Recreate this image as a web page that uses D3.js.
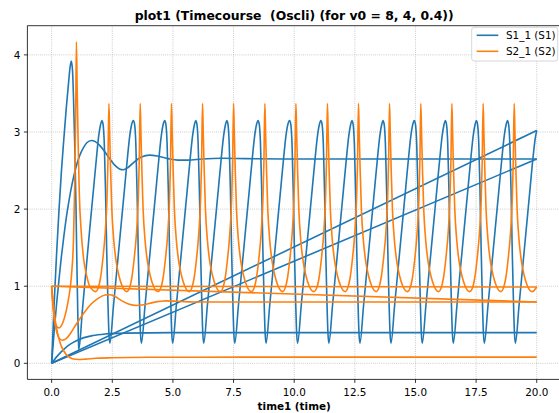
<!DOCTYPE html>
<html><head><meta charset="utf-8">
<script src="https://cdn.jsdelivr.net/npm/d3@7"></script>
<style>
body{margin:0;background:#fff}
svg{display:block}
text{font-family:"DejaVu Sans",sans-serif;fill:#000;white-space:pre}
</style></head>
<body><svg id="c" width="559" height="413"></svg>
<script>
// ---------- data ----------
const titleText = "plot1 (Timecourse  (Oscli) (for v0 = 8, 4, 0.4))";
const xLabelText = "time1 (time)";
const seriesNames = ["S1_1 (S1)", "S2_1 (S2)"];
const seriesColors = ["#1f77b4", "#ff7f0e"];
const xTicks = [0, 2.5, 5, 7.5, 10, 12.5, 15, 17.5, 20];
const yTicks = [0, 1, 2, 3, 4];

// S1, run v0 = 8 (oscillating)
const s1Run1 = [[0,0],[0.1,0.75],[0.2,1.4],[0.3,1.97],[0.4,2.48],[0.5,2.9],[0.6,3.3],[0.7,3.65],[0.76,3.84],[0.81,3.92],[0.86,3.8],[0.9,3.45],[0.95,2.85],[1.0,2.1],[1.04,1.3],[1.08,0.6],[1.11,0.25],[1.12,0.18],
[1.27,0.7],[1.42,1.22],[1.57,1.74],[1.72,2.24],[1.84,2.64],[1.94,2.95],[2.02,3.1],[2.07,3.15],[2.12,3.1],[2.17,2.85],[2.22,2.25],[2.27,1.45],[2.32,0.8],[2.36,0.4],[2.40,0.26],
[2.55,0.75],[2.70,1.25],[2.85,1.75],[3.00,2.25],[3.12,2.65],[3.22,2.95],[3.30,3.1],[3.37,3.15],[3.42,3.1],[3.47,2.85],[3.52,2.25],[3.57,1.45],[3.62,0.8],[3.66,0.4],[3.70,0.26],
[3.85,0.75],[4.00,1.25],[4.15,1.75],[4.30,2.25],[4.42,2.65],[4.52,2.95],[4.60,3.1],[4.66,3.15],[4.71,3.1],[4.76,2.85],[4.81,2.25],[4.86,1.45],[4.91,0.8],[4.95,0.4],[4.99,0.26],
[5.14,0.75],[5.29,1.25],[5.44,1.75],[5.59,2.25],[5.71,2.65],[5.81,2.95],[5.89,3.1],[5.94,3.15],[5.99,3.1],[6.04,2.85],[6.09,2.25],[6.14,1.45],[6.19,0.8],[6.23,0.4],[6.27,0.26],
[6.42,0.75],[6.57,1.25],[6.72,1.75],[6.87,2.25],[6.99,2.65],[7.09,2.95],[7.17,3.1],[7.22,3.15],[7.27,3.1],[7.32,2.85],[7.37,2.25],[7.42,1.45],[7.47,0.8],[7.51,0.4],[7.55,0.26],
[7.70,0.75],[7.85,1.25],[8.00,1.75],[8.15,2.25],[8.27,2.65],[8.37,2.95],[8.45,3.1],[8.51,3.15],[8.56,3.1],[8.61,2.85],[8.66,2.25],[8.71,1.45],[8.76,0.8],[8.80,0.4],[8.84,0.26],
[8.99,0.75],[9.14,1.25],[9.29,1.75],[9.44,2.25],[9.56,2.65],[9.66,2.95],[9.74,3.1],[9.81,3.15],[9.86,3.1],[9.91,2.85],[9.96,2.25],[10.01,1.45],[10.06,0.8],[10.10,0.4],[10.14,0.26],
[10.29,0.75],[10.44,1.25],[10.59,1.75],[10.74,2.25],[10.86,2.65],[10.96,2.95],[11.04,3.1],[11.10,3.15],[11.15,3.1],[11.20,2.85],[11.25,2.25],[11.30,1.45],[11.35,0.8],[11.39,0.4],[11.43,0.26],
[11.58,0.75],[11.73,1.25],[11.88,1.75],[12.03,2.25],[12.15,2.65],[12.25,2.95],[12.33,3.1],[12.38,3.15],[12.43,3.1],[12.48,2.85],[12.53,2.25],[12.58,1.45],[12.63,0.8],[12.67,0.4],[12.71,0.26],
[12.86,0.75],[13.01,1.25],[13.16,1.75],[13.31,2.25],[13.43,2.65],[13.53,2.95],[13.61,3.1],[13.66,3.15],[13.71,3.1],[13.76,2.85],[13.81,2.25],[13.86,1.45],[13.91,0.8],[13.95,0.4],[13.99,0.26],
[14.14,0.75],[14.29,1.25],[14.44,1.75],[14.59,2.25],[14.71,2.65],[14.81,2.95],[14.89,3.1],[14.95,3.15],[15.00,3.1],[15.05,2.85],[15.10,2.25],[15.15,1.45],[15.20,0.8],[15.24,0.4],[15.28,0.26],
[15.43,0.75],[15.58,1.25],[15.73,1.75],[15.88,2.25],[16.00,2.65],[16.10,2.95],[16.18,3.1],[16.23,3.15],[16.28,3.1],[16.33,2.85],[16.38,2.25],[16.43,1.45],[16.48,0.8],[16.52,0.4],[16.56,0.26],
[16.71,0.75],[16.86,1.25],[17.01,1.75],[17.16,2.25],[17.28,2.65],[17.38,2.95],[17.46,3.1],[17.51,3.15],[17.56,3.1],[17.61,2.85],[17.66,2.25],[17.71,1.45],[17.76,0.8],[17.80,0.4],[17.84,0.26],
[17.99,0.75],[18.14,1.25],[18.29,1.75],[18.44,2.25],[18.56,2.65],[18.66,2.95],[18.74,3.1],[18.79,3.15],[18.84,3.1],[18.89,2.85],[18.94,2.25],[18.99,1.45],[19.04,0.8],[19.08,0.4],[19.12,0.26],
[19.27,0.75],[19.42,1.25],[19.57,1.75],[19.72,2.25],[19.84,2.65],[19.94,2.92],[20.0,3.02]];

// S1, run v0 = 4 (damped)
const s1Run2 = [[0,0],[0.1,0.4],[0.2,0.76],[0.3,1.08],[0.4,1.38],[0.5,1.64],[0.6,1.88],[0.7,2.08],[0.8,2.26],[0.9,2.41],[1.0,2.54],[1.15,2.69],[1.3,2.79],[1.45,2.86],[1.64,2.89],[1.8,2.875],[2.0,2.82],[2.2,2.74],[2.4,2.65],[2.6,2.57],[2.8,2.52],[2.95,2.51],[3.15,2.54],[3.4,2.61],[3.7,2.675],[4.04,2.70],[4.4,2.685],[4.8,2.655],[5.2,2.635],[5.6,2.635],[6.2,2.65],[7,2.66],[8,2.655],[10,2.65],[20,2.65]];

// S1, run v0 = 0.4
const s1Run3 = [[0,0],[0.25,0.1],[0.5,0.18],[0.75,0.245],[1.0,0.29],[1.3,0.33],[1.7,0.36],[2.2,0.38],[3,0.392],[5,0.398],[20,0.398]];

// S2, run v0 = 8 (oscillating)
const s2Run1 = [[0,1.0],[0.04,0.8],[0.1,0.6],[0.2,0.48],[0.3,0.46],[0.45,0.52],[0.6,0.68],[0.72,0.88],[0.82,1.15],[0.9,1.6],[0.95,2.3],[0.99,3.2],[1.02,4.17],
[1.05,3.6],[1.09,2.9],[1.14,2.2],[1.22,1.7],[1.32,1.35],[1.44,1.14],[1.57,1.0],[1.82,0.93],[1.91,0.97],[2.01,1.1],[2.11,1.35],[2.21,1.7],[2.28,2.12],[2.32,2.6],[2.36,3.37],
[2.39,3.0],[2.43,2.5],[2.48,2.0],[2.56,1.6],[2.66,1.32],[2.78,1.13],[2.91,1.0],[3.10,0.93],[3.20,0.97],[3.30,1.1],[3.40,1.35],[3.50,1.7],[3.57,2.12],[3.61,2.6],[3.65,3.37],
[3.68,3.0],[3.72,2.5],[3.77,2.0],[3.85,1.6],[3.95,1.32],[4.07,1.13],[4.20,1.0],[4.39,0.93],[4.49,0.97],[4.59,1.1],[4.69,1.35],[4.79,1.7],[4.86,2.12],[4.90,2.6],[4.94,3.37],
[4.97,3.0],[5.01,2.5],[5.06,2.0],[5.14,1.6],[5.24,1.32],[5.36,1.13],[5.49,1.0],[5.68,0.93],[5.77,0.97],[5.87,1.1],[5.97,1.35],[6.07,1.7],[6.14,2.12],[6.18,2.6],[6.22,3.37],
[6.25,3.0],[6.29,2.5],[6.34,2.0],[6.42,1.6],[6.52,1.32],[6.64,1.13],[6.77,1.0],[6.96,0.93],[7.05,0.97],[7.15,1.1],[7.25,1.35],[7.35,1.7],[7.42,2.12],[7.46,2.6],[7.50,3.37],
[7.53,3.0],[7.57,2.5],[7.62,2.0],[7.70,1.6],[7.80,1.32],[7.92,1.13],[8.05,1.0],[8.24,0.93],[8.34,0.97],[8.44,1.1],[8.54,1.35],[8.64,1.7],[8.71,2.12],[8.75,2.6],[8.79,3.37],
[8.82,3.0],[8.86,2.5],[8.91,2.0],[8.99,1.6],[9.09,1.32],[9.21,1.13],[9.34,1.0],[9.53,0.93],[9.62,0.97],[9.72,1.1],[9.82,1.35],[9.92,1.7],[9.99,2.12],[10.03,2.6],[10.07,3.37],
[10.10,3.0],[10.14,2.5],[10.19,2.0],[10.27,1.6],[10.37,1.32],[10.49,1.13],[10.62,1.0],[10.81,0.93],[10.92,0.97],[11.02,1.1],[11.12,1.35],[11.22,1.7],[11.29,2.12],[11.33,2.6],[11.37,3.37],
[11.40,3.0],[11.44,2.5],[11.49,2.0],[11.57,1.6],[11.67,1.32],[11.79,1.13],[11.92,1.0],[12.11,0.93],[12.20,0.97],[12.30,1.1],[12.40,1.35],[12.50,1.7],[12.57,2.12],[12.61,2.6],[12.65,3.37],
[12.68,3.0],[12.72,2.5],[12.77,2.0],[12.85,1.6],[12.95,1.32],[13.07,1.13],[13.20,1.0],[13.39,0.93],[13.48,0.97],[13.58,1.1],[13.68,1.35],[13.78,1.7],[13.85,2.12],[13.89,2.6],[13.93,3.37],
[13.96,3.0],[14.00,2.5],[14.05,2.0],[14.13,1.6],[14.23,1.32],[14.35,1.13],[14.48,1.0],[14.67,0.93],[14.77,0.97],[14.87,1.1],[14.97,1.35],[15.07,1.7],[15.14,2.12],[15.18,2.6],[15.22,3.37],
[15.25,3.0],[15.29,2.5],[15.34,2.0],[15.42,1.6],[15.52,1.32],[15.64,1.13],[15.77,1.0],[15.96,0.93],[16.05,0.97],[16.15,1.1],[16.25,1.35],[16.35,1.7],[16.42,2.12],[16.46,2.6],[16.50,3.37],
[16.53,3.0],[16.57,2.5],[16.62,2.0],[16.70,1.6],[16.80,1.32],[16.92,1.13],[17.05,1.0],[17.24,0.93],[17.34,0.97],[17.44,1.1],[17.54,1.35],[17.64,1.7],[17.71,2.12],[17.75,2.6],[17.79,3.37],
[17.82,3.0],[17.86,2.5],[17.91,2.0],[17.99,1.6],[18.09,1.32],[18.21,1.13],[18.34,1.0],[18.53,0.93],[18.62,0.97],[18.72,1.1],[18.82,1.35],[18.92,1.7],[18.99,2.12],[19.03,2.6],[19.07,3.37],
[19.10,3.0],[19.14,2.5],[19.19,2.0],[19.27,1.6],[19.37,1.32],[19.49,1.13],[19.62,1.0],[19.81,0.93],[20.0,0.99]];

// S2, run v0 = 4 (damped)
const s2Run2 = [[0,1.0],[0.05,0.78],[0.12,0.55],[0.2,0.42],[0.3,0.33],[0.44,0.30],[0.6,0.32],[0.8,0.4],[1.0,0.5],[1.3,0.64],[1.6,0.76],[1.9,0.84],[2.2,0.885],[2.4,0.89],[2.6,0.87],[2.9,0.81],[3.2,0.765],[3.5,0.75],[3.8,0.76],[4.2,0.79],[4.7,0.81],[5.2,0.805],[6,0.795],[7,0.795],[10,0.795],[20,0.795]];

// S2, run v0 = 0.4
const s2Run3 = [[0,1.0],[0.05,0.82],[0.1,0.67],[0.2,0.46],[0.3,0.32],[0.4,0.22],[0.5,0.16],[0.6,0.115],[0.75,0.075],[0.9,0.055],[1.1,0.05],[1.4,0.055],[1.8,0.065],[2.5,0.072],[4,0.078],[8,0.08],[20,0.08]];

// ---------- drawing ----------
const svg = d3.select("#c");
const x = d3.scaleLinear().domain([-1, 21]).range([27.4, 561.0]);
const y = d3.scaleLinear().domain([-0.2085, 4.3785]).range([379.4, 25.7]);
const [x0, x1] = x.range();
const [yB, yT] = y.range();

// grid
const grid = svg.append("g");
grid.selectAll("line.gx").data(xTicks).join("line")
  .attr("x1", d => x(d)).attr("x2", d => x(d)).attr("y1", yB).attr("y2", yT)
  .attr("stroke", "#b0b0b0").attr("stroke-width", 0.8).attr("stroke-dasharray", "0.8,1.32");
grid.selectAll("line.gy").data(yTicks).join("line")
  .attr("y1", d => y(d)).attr("y2", d => y(d)).attr("x1", x0).attr("x2", x1)
  .attr("stroke", "#b0b0b0").attr("stroke-width", 0.8).attr("stroke-dasharray", "0.8,1.32");

// lines
const line = d3.line().x(d => x(d[0])).y(d => y(d[1])).curve(d3.curveMonotoneX);
const straight = d3.line().x(d => x(d[0])).y(d => y(d[1]));
const species = [[s1Run1, s1Run2, s1Run3], [s2Run1, s2Run2, s2Run3]];
const plot = svg.append("g");
species.forEach((runs, i) => {
  const g = plot.append("g").attr("fill", "none").attr("stroke", seriesColors[i])
    .attr("stroke-width", 1.6).attr("stroke-linejoin", "round").attr("stroke-linecap", "butt");
  runs.forEach((run, k) => {
    g.append("path").attr("d", line(run));
    if (k < runs.length - 1) {
      g.append("path").attr("d", straight([run[run.length - 1], runs[k + 1][0]]));
    }
  });
});

// spines
const sp = svg.append("g").attr("stroke", "#000").attr("stroke-width", 0.8);
sp.append("line").attr("x1", x0).attr("x2", x0).attr("y1", yB).attr("y2", yT);
sp.append("line").attr("x1", x0).attr("x2", x1).attr("y1", yB).attr("y2", yB);
sp.append("line").attr("x1", x0).attr("x2", x1).attr("y1", yT).attr("y2", yT);
sp.append("line").attr("x1", x1).attr("x2", x1).attr("y1", yB).attr("y2", yT);

// ticks
const fs = 10.4;
const tk = svg.append("g");
tk.selectAll("line.tx").data(xTicks).join("line")
  .attr("x1", d => x(d)).attr("x2", d => x(d)).attr("y1", yB).attr("y2", yB + 3.5)
  .attr("stroke", "#000").attr("stroke-width", 0.8);
tk.selectAll("text.tx").data(xTicks).join("text")
  .attr("x", d => x(d)).attr("y", yB + 16.2).attr("text-anchor", "middle")
  .attr("font-size", fs).text(d => d3.format(".1f")(d));
tk.selectAll("line.ty").data(yTicks).join("line")
  .attr("x1", x0 - 3.5).attr("x2", x0).attr("y1", d => y(d)).attr("y2", d => y(d))
  .attr("stroke", "#000").attr("stroke-width", 0.8);
tk.selectAll("text.ty").data(yTicks).join("text")
  .attr("x", x0 - 7).attr("y", d => y(d) + 3.8).attr("text-anchor", "end")
  .attr("font-size", fs).text(d => d3.format("d")(d));

// labels
svg.append("text").attr("x", (x0 + x1) / 2).attr("y", 409.5).attr("text-anchor", "middle")
  .attr("font-size", fs).attr("font-weight", "bold").text(xLabelText);
svg.append("text").attr("x", (x0 + x1) / 2).attr("y", 20).attr("text-anchor", "middle")
  .attr("xml:space", "preserve")
  .attr("font-size", 12.4).attr("font-weight", "bold").text(titleText);

// legend
const lg = svg.append("g");
lg.append("rect").attr("x", 471.7).attr("y", 27.3).attr("width", 86).attr("height", 33.7)
  .attr("rx", 2.5).attr("fill", "#fff").attr("fill-opacity", 0.8).attr("stroke", "#cccccc").attr("stroke-width", 0.8);
seriesNames.forEach((nm, i) => {
  const cy = 35.3 + i * 16;
  lg.append("line").attr("x1", 476.7).attr("x2", 498.3).attr("y1", cy).attr("y2", cy)
    .attr("stroke", seriesColors[i]).attr("stroke-width", 1.6);
  lg.append("text").attr("x", 506).attr("y", cy + 3.8).attr("font-size", fs).text(nm);
});
</script></body></html>
